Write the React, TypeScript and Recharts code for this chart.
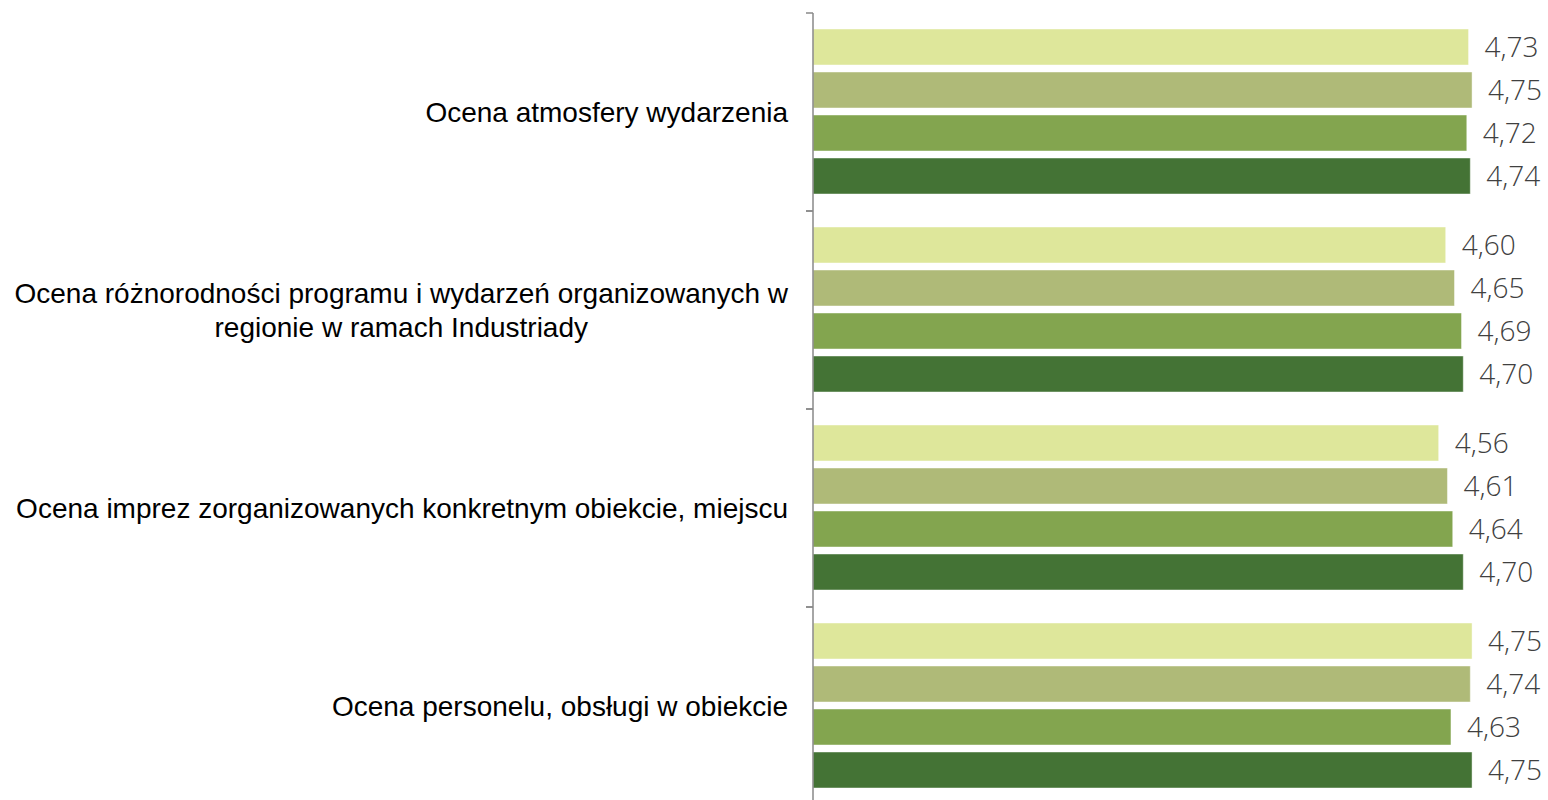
import React from "react"
import { BarChart, Bar, XAxis, YAxis, LabelList } from "recharts"

const categories = [
  "Ocena atmosfery wydarzenia",
  "Ocena różnorodności programu i wydarzeń organizowanych w\nregionie w ramach Industriady",
  "Ocena imprez zorganizowanych konkretnym obiekcie, miejscu",
  "Ocena personelu, obsługi w obiekcie",
]

const series1 = [4.73, 4.6, 4.56, 4.75]
const series2 = [4.75, 4.65, 4.61, 4.74]
const series3 = [4.72, 4.69, 4.64, 4.63]
const series4 = [4.74, 4.7, 4.7, 4.75]

const colors = ["#DEE79B", "#AFBA78", "#83A54F", "#447335"]

const data = categories.map((name, i) => ({
  name,
  s1: series1[i],
  s2: series2[i],
  s3: series3[i],
  s4: series4[i],
}))

const AXIS_X = 813
const LABEL_FONT = "28px 'Liberation Sans', Arial, sans-serif"

let ctx: CanvasRenderingContext2D | null = null
function measure(t: string) {
  if (!ctx) ctx = document.createElement("canvas").getContext("2d")
  if (!ctx) return t.length * 13
  ctx.font = LABEL_FONT
  return ctx.measureText(t).width
}

const fmt = (v: any) => Number(v).toFixed(2).replace(".", ",")

function CategoryTick(props: any) {
  const { y, payload } = props
  const lines: string[] = String(payload.value).split("\n")
  const w = Math.max(...lines.map(measure))
  const cx = AXIS_X - 25 - w / 2
  const lh = 34
  const y0 = y - ((lines.length - 1) * lh) / 2
  const half = payload.offset ?? 99
  return (
    <g>
      <line x1={AXIS_X - 7} x2={AXIS_X} y1={y - half} y2={y - half} stroke="#898989" strokeWidth={1.5} />
      <line x1={AXIS_X - 7} x2={AXIS_X} y1={y + half} y2={y + half} stroke="#898989" strokeWidth={1.5} />
      <text
        textAnchor="middle"
        fontFamily="'Liberation Sans', Arial, sans-serif"
        fontSize={28}
        fill="#000"
      >
        {lines.map((l, i) => (
          <tspan key={i} x={cx} y={y0 + i * lh} dy="0.35em">
            {l}
          </tspan>
        ))}
      </text>
    </g>
  )
}

export default function App() {
  const keys = ["s1", "s2", "s3", "s4"]
  return (
    <div style={{ position: "absolute", left: 0, top: 0, background: "#fff" }}>
      <BarChart
        width={1548}
        height={805}
        data={data}
        layout="vertical"
        margin={{ top: 13, right: 32, left: 0, bottom: 0 }}
        barCategoryGap={16}
        barGap={7}
      >
        <XAxis type="number" domain={[1, 5]} hide />
        <YAxis
          type="category"
          dataKey="name"
          width={AXIS_X}
          tickLine={false}
          axisLine={{ stroke: "#898989", strokeWidth: 1.5 }}
          tick={<CategoryTick />}
          interval={0}
        />
        {keys.map((k, i) => (
          <Bar
            key={k}
            dataKey={k}
            fill={colors[i]}
            stroke="rgba(255,255,255,0.45)"
            strokeWidth={1}
            isAnimationActive={false}
          >
            <LabelList
              dataKey={k}
              position="right"
              offset={16}
              formatter={fmt}
              fill="#404040"
              fontFamily="'Open Sans', sans-serif"
              fontWeight={300}
              fontSize={28}
            />
          </Bar>
        ))}
      </BarChart>
    </div>
  )
}
